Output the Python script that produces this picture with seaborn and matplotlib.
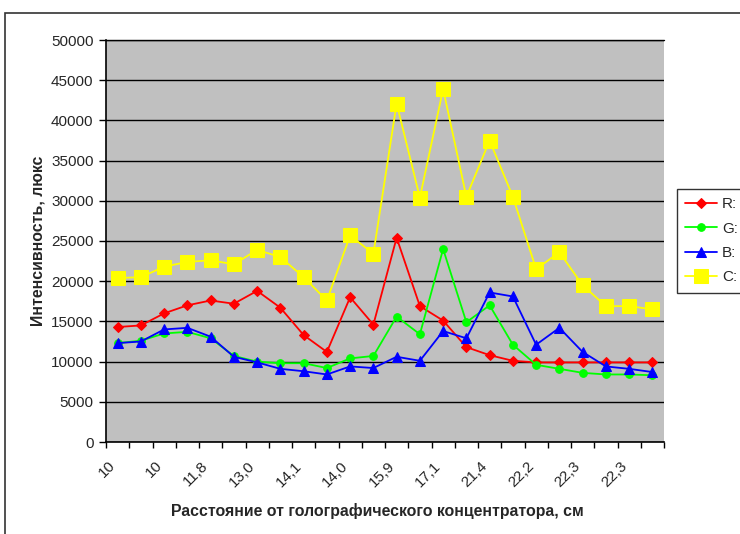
import pandas as pd
import matplotlib.pyplot as plt
import seaborn as sns
from matplotlib.patches import Rectangle
from matplotlib.ticker import MultipleLocator

# Подписи оси X (каждая вторая точка) и значения серий
x_labels = ["10", "10", "11,8", "13,0", "14,1", "14,0", "15,9", "17,1",
            "21,4", "22,2", "22,3", "22,3"]

r_vals = [14300, 14500, 16000, 17000, 17600, 17200, 18800, 16700, 13300, 11200,
          18000, 14600, 25400, 16900, 15100, 11800, 10800, 10100, 9900, 9900,
          9900, 9900, 9900, 9900]
g_vals = [12300, 12600, 13500, 13700, 12900, 10700, 10000, 9800, 9800, 9200,
          10400, 10700, 15600, 13400, 24000, 14900, 17000, 12100, 9600, 9100,
          8600, 8400, 8400, 8300]
b_vals = [12300, 12500, 14000, 14200, 13100, 10600, 9900, 9100, 8800, 8400,
          9400, 9200, 10600, 10100, 13800, 12900, 18600, 18100, 12100, 14200,
          11200, 9400, 9100, 8700]
c_vals = [20400, 20500, 21800, 22400, 22600, 22100, 23900, 23000, 20500, 17600,
          25700, 23400, 42100, 30400, 43900, 30500, 37500, 30500, 21500, 23600,
          19500, 16900, 16900, 16500]


def ejecutar_grafica():
    sns.set_theme(style="white")
    plt.rcParams['font.family'] = ['Liberation Sans', 'DejaVu Sans']

    n = len(r_vals)
    df = pd.DataFrame({"x": list(range(n)), "R:": r_vals, "G:": g_vals,
                       "B:": b_vals, "C:": c_vals})

    fig = plt.figure(figsize=(7.4, 5.34), dpi=100)
    ax = fig.add_axes([106 / 740, 1 - 442 / 534, 558 / 740, 402 / 534])
    ax.set_facecolor("#C0C0C0")

    estilos = [
        ("R:", "#FF0000", "D", 5),
        ("G:", "#00FF00", "o", 5.5),
        ("B:", "#0000FF", "^", 7),
        ("C:", "#FFFF00", "s", 10),
    ]
    handles = []
    for nombre, color, marcador, tam in estilos:
        sns.lineplot(data=df, x="x", y=nombre, ax=ax, color=color, marker=marcador,
                     markersize=tam, markeredgecolor=color, linewidth=1.3,
                     label=nombre, legend=False)
        handles.append(ax.lines[-1])

    ax.set_xlim(-0.5, n - 0.5)
    ax.set_ylim(0, 50000)
    ax.yaxis.set_major_locator(MultipleLocator(5000))
    ax.grid(axis="y", color="black", linewidth=1)
    ax.set_axisbelow(True)
    ax.axhline(50000, color="black", linewidth=1, clip_on=False)

    # etiquetas un poco a la izquierda del centro de la categoría, como en Excel
    ax.set_xticks([i - 0.4 for i in range(0, n, 2)])
    ax.set_xticklabels(x_labels, rotation=45, ha="right", rotation_mode="anchor",
                       fontsize=11)
    ax.set_xticks([i - 0.5 for i in range(n + 1)], minor=True)
    ax.tick_params(axis="x", which="major", length=0, pad=12)
    ax.tick_params(axis="x", which="minor", length=4, width=1, color="black",
                   direction="out", bottom=True)
    ax.tick_params(axis="y", length=5, width=1, color="black", direction="out",
                   left=True, labelsize=11, pad=4)

    for lado in ["top", "right"]:
        ax.spines[lado].set_visible(False)
    for lado in ["left", "bottom"]:
        ax.spines[lado].set_color("black")
        ax.spines[lado].set_linewidth(1.2)

    ax.set_xlabel("Расстояние от голографического концентратора, см",
                  fontsize=11.4, fontweight="bold")
    ax.xaxis.set_label_coords(0.487, -0.152)
    ax.set_ylabel("Интенсивность, люкс", fontsize=11.4, fontweight="bold",
                  labelpad=4)

    leg = fig.legend(handles=handles, labels=[h.get_label() for h in handles],
                     loc="upper left", bbox_to_anchor=(677 / 740, 1 - 189 / 534),
                     frameon=True, fancybox=False, fontsize=11, handlelength=2.1,
                     borderpad=0.55, labelspacing=0.67, handletextpad=0.3,
                     borderaxespad=0)
    leg.get_frame().set_edgecolor("black")
    leg.get_frame().set_linewidth(1)

    # Marco exterior del gráfico
    fig.patches.append(Rectangle((5 / 740, -0.1), 1.2, 1.1 - 13 / 534,
                                 transform=fig.transFigure, fill=False,
                                 edgecolor="#333333", linewidth=1.2))

    plt.savefig("out.png", dpi=100)
    plt.close()


if __name__ == "__main__":
    ejecutar_grafica()
